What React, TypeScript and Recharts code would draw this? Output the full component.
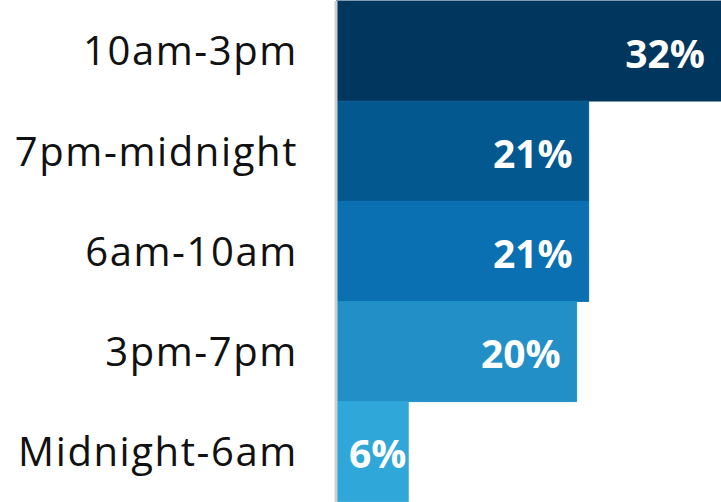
import React from 'react';
import { BarChart, Bar, XAxis, YAxis, Cell, LabelList } from 'recharts';

const periods = ['10am-3pm', '7pm-midnight', '6am-10am', '3pm-7pm', 'Midnight-6am'];
const shares = [32, 21, 21, 20, 6];
const colors = ['#01365F', '#03598F', '#0A70B2', '#2290C7', '#30A7D9'];

const data = periods.map((p, i) => ({ period: p, share: shares[i] }));

const FONT = "'Century Gothic', 'Open Sans', sans-serif";

const ValueLabel = (props: any) => {
  const { x, y, width, height, value } = props;
  const small = width < 110;
  return (
    <text
      x={small ? x + 13 : x + width - 16}
      y={y + height / 2 + 1}
      textAnchor={small ? 'start' : 'end'}
      dominantBaseline="central"
      fill="#ffffff"
      fontFamily={FONT}
      fontWeight={700}
      fontSize={39}
    >
      {value}%
    </text>
  );
};

export default function App() {
  return (
    <div style={{ position: 'absolute', left: 0, top: 0, width: 721, height: 502, background: '#fff' }}>
      <BarChart
        width={721}
        height={502}
        data={data}
        layout="vertical"
        barCategoryGap={0}
        margin={{ top: 1, right: 0, bottom: 0, left: 0 }}
      >
        <XAxis type="number" domain={[0, 32]} hide />
        <YAxis
          type="category"
          dataKey="period"
          width={336}
          axisLine={{ stroke: '#cfcfcf', strokeWidth: 3 }}
          tickLine={false}
          tickMargin={32}
          tick={{ fill: '#111111', fontSize: 40, fontFamily: FONT, letterSpacing: 1.6 }}
        />
        <Bar dataKey="share" isAnimationActive={false}>
          {data.map((d, i) => (
            <Cell key={d.period} fill={colors[i]} stroke={colors[i]} strokeWidth={1} />
          ))}
          <LabelList dataKey="share" content={<ValueLabel />} />
        </Bar>
      </BarChart>
    </div>
  );
}
